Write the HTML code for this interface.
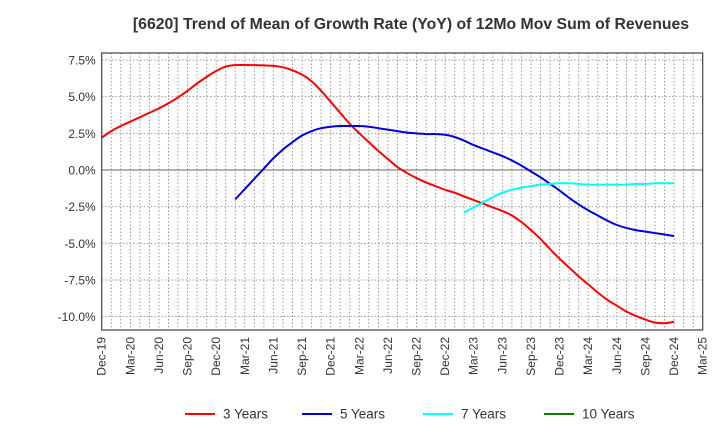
<!DOCTYPE html>
<html><head><meta charset="utf-8"><style>
body{margin:0;background:#fff;font-family:"Liberation Sans",Arial,sans-serif}
svg text{font-family:"Liberation Sans",Arial,sans-serif}
</style></head><body>
<svg id="c" width="720" height="440" xmlns="http://www.w3.org/2000/svg">
<text x="411" y="29" text-anchor="middle" font-size="15.8" font-weight="bold" fill="#333">[6620]  Trend of Mean of Growth Rate (YoY) of 12Mo Mov Sum of Revenues</text>
<g id="grid"></g><g id="lines"></g><g id="axes"></g>
<g id="legend"></g>
</svg>
<script>
const xLabels=["Dec-19","Mar-20","Jun-20","Sep-20","Dec-20","Mar-21","Jun-21","Sep-21","Dec-21","Mar-22","Jun-22","Sep-22","Dec-22","Mar-23","Jun-23","Sep-23","Dec-23","Mar-24","Jun-24","Sep-24","Dec-24","Mar-25"];
const yTicks=[7.5,5,2.5,0,-2.5,-5,-7.5,-10];
const seriesNames=["3 Years","5 Years","7 Years","10 Years"];
const seriesColors=["#ff0000","#0000dd","#00ffff","#008000"];
const red=[2.2,2.65,3.0,3.3,3.6,3.9,4.2,4.55,4.95,5.4,5.9,6.35,6.75,7.05,7.15,7.16,7.15,7.13,7.1,7.0,6.8,6.5,6.05,5.4,4.65,3.9,3.15,2.5,1.9,1.3,0.75,0.2,-0.2,-0.55,-0.85,-1.1,-1.35,-1.55,-1.8,-2.05,-2.3,-2.55,-2.8,-3.1,-3.55,-4.1,-4.7,-5.4,-6.05,-6.65,-7.25,-7.8,-8.35,-8.85,-9.25,-9.65,-9.95,-10.2,-10.4,-10.45,-10.35];
const redStart=0;
const blue=[-2.0,-1.3,-0.6,0.1,0.8,1.4,1.9,2.35,2.65,2.85,2.95,3.0,3.0,3.0,2.95,2.85,2.75,2.65,2.55,2.5,2.45,2.45,2.4,2.25,2.0,1.7,1.45,1.2,0.95,0.65,0.3,-0.1,-0.5,-0.95,-1.4,-1.9,-2.35,-2.75,-3.1,-3.45,-3.75,-3.95,-4.1,-4.2,-4.3,-4.4,-4.5];
const blueStart=14;
const cyan=[-2.9,-2.55,-2.2,-1.85,-1.55,-1.35,-1.2,-1.1,-1.0,-0.95,-0.9,-0.9,-0.95,-1.0,-1.0,-1.0,-1.0,-1.0,-0.95,-0.95,-0.9,-0.9,-0.9];
const cyanStart=38;

const L=101.7,R=702.7,T=53,B=330,NM=63;
const X=i=>L+(R-L)*i/NM;
const Y=v=>170-v*(110/7.5);
const ns="http://www.w3.org/2000/svg";
function mk(t,p,a){const e=document.createElementNS(ns,t);for(const k in a)e.setAttribute(k,a[k]);p.appendChild(e);return e;}
const grid=document.getElementById('grid'),axes=document.getElementById('axes'),lines=document.getElementById('lines'),leg=document.getElementById('legend');
for(let m=1;m<NM;m++){const g=mk('line',grid,{x1:X(m),x2:X(m),y1:T,y2:B,stroke:'#999','stroke-dasharray':'1.5,2','stroke-width':1});

}
yTicks.forEach(v=>{const g=mk('line',grid,{x1:L,x2:R,y1:Y(v),y2:Y(v),stroke:v===0?'#666':'#999','stroke-dasharray':v===0?'none':'1.5,2','stroke-width':1});


const t=mk('text',axes,{x:L-6,y:Y(v)+4.5,'text-anchor':'end','font-size':12,fill:'#333'});t.textContent=v.toFixed(1)+'%';

});
const fr=mk('rect',axes,{x:L,y:T,width:R-L,height:B-T,fill:'none',stroke:'#444','stroke-width':1.2});


xLabels.forEach((s,i)=>{const x=X(i*3)+4;const t=mk('text',axes,{x:0,y:0,'text-anchor':'end','font-size':12,fill:'#333',transform:`translate(${x},337) rotate(-90)`});t.textContent=s;

});
function path(vals,start){const p=vals.map((v,i)=>[X(start+i),Y(v)]);let d='M'+p[0][0]+','+p[0][1];
for(let i=0;i<p.length-1;i++){const p0=p[i-1]||p[i],p1=p[i],p2=p[i+1],p3=p[i+2]||p2;
d+=` C${p1[0]+(p2[0]-p0[0])/6},${p1[1]+(p2[1]-p0[1])/6} ${p2[0]-(p3[0]-p1[0])/6},${p2[1]-(p3[1]-p1[1])/6} ${p2[0]},${p2[1]}`;}return d;}
[[red,redStart,0,'line-3-years'],[blue,blueStart,1,'line-5-years'],[cyan,cyanStart,2,'line-7-years']].forEach(([v,s,c,n])=>{
const e=mk('path',lines,{d:path(v,s),fill:'none',stroke:seriesColors[c],'stroke-width':2});

});
const lx=[185,302,423,544];
seriesNames.forEach((s,i)=>{const g=mk('g',leg,{});


mk('line',g,{x1:lx[i],x2:lx[i]+30,y1:414,y2:414,stroke:seriesColors[i],'stroke-width':2});
const t=mk('text',g,{x:lx[i]+38,y:418.5,'font-size':13.5,fill:'#333'});t.textContent=s;});
</script>
</body></html>
